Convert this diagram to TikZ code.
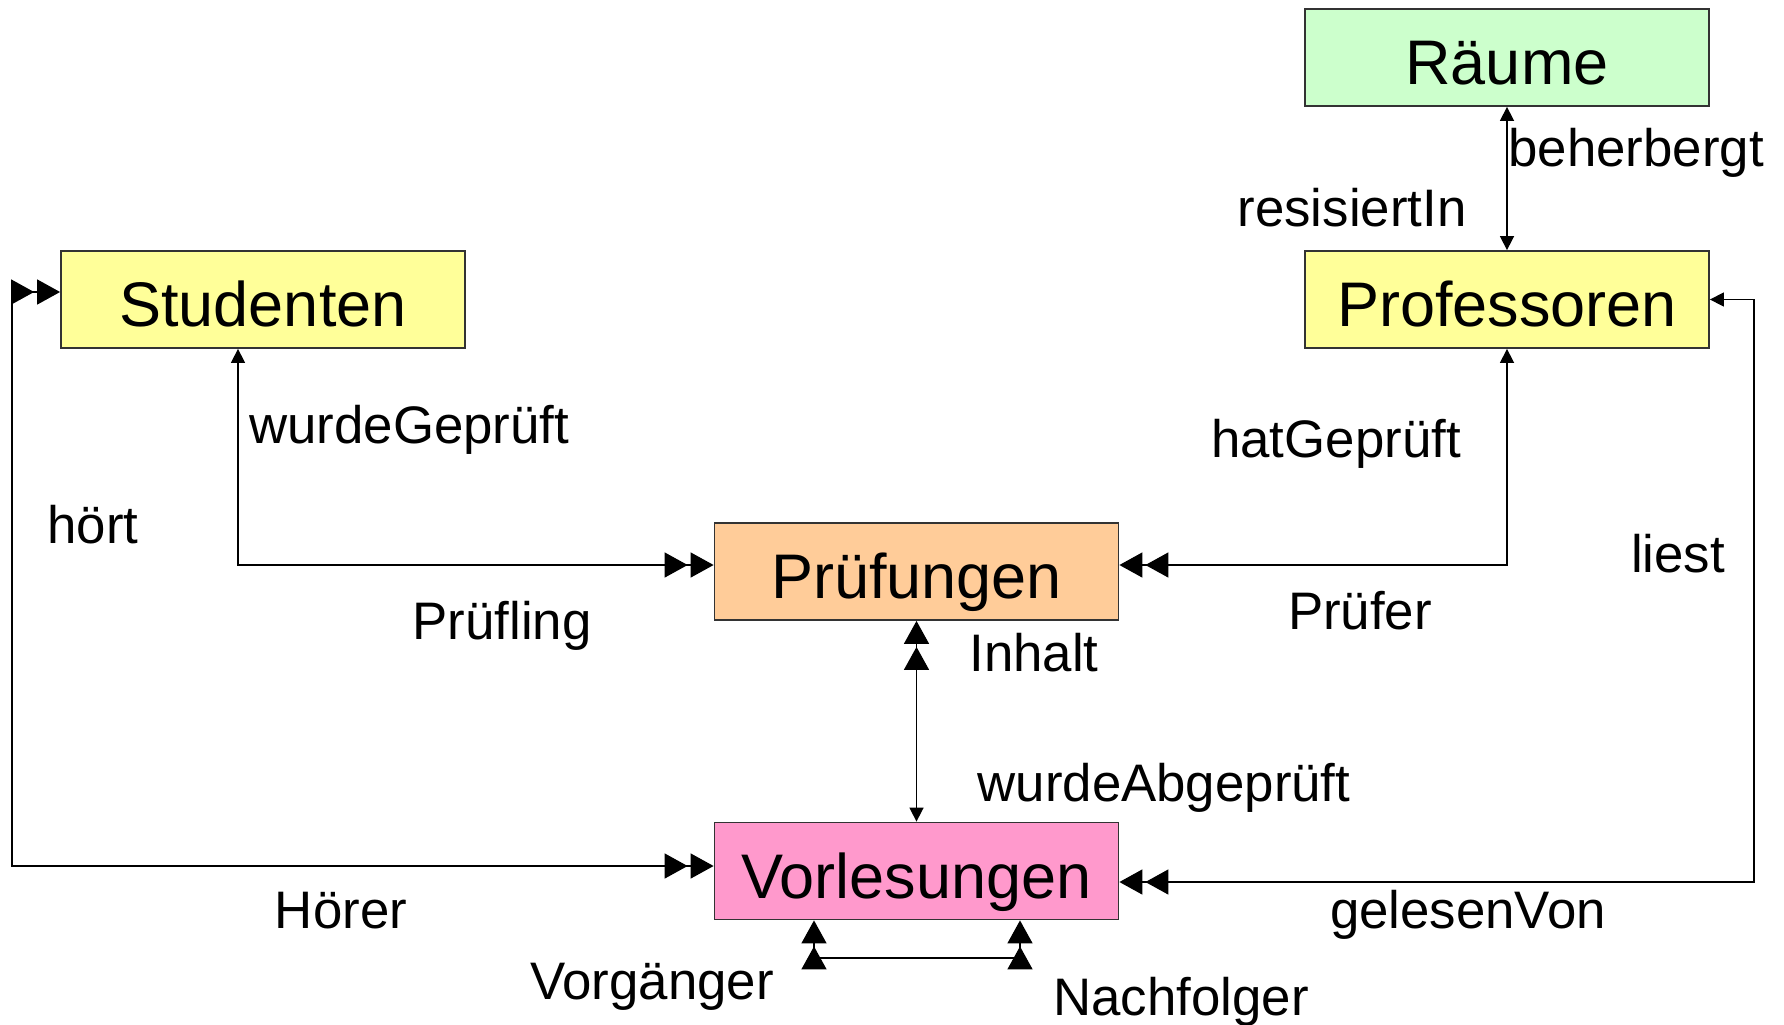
\documentclass[tikz,border=0pt]{standalone}
\usepackage{fontspec}
\setmainfont{Liberation Sans}
\usepackage{tikz}
\usetikzlibrary{arrows.meta}
\definecolor{raumgruen}{HTML}{CCFFCC}
\definecolor{gelb}{HTML}{FFFF99}
\definecolor{orange}{HTML}{FFCC99}
\definecolor{rosa}{HTML}{FF99CC}
\tikzstyle{entity} = [rectangle, minimum width=202pt, minimum height=48.5pt, text height=27pt, text depth=0pt, text centered, draw=black!80, line width=0.9pt, font=\fontsize{31.5}{36}\selectfont]
\tikzstyle{rolle} = [font=\fontsize{26.4}{30}\selectfont, inner sep=0pt]
\tikzstyle{conn} = [draw=black, line width=0.75pt]
\tikzset{one/.tip={Triangle[length=7pt,width=7pt]},
  many/.tip={Triangle[length=11.5pt,width=12.5pt,sep=1.5pt]Triangle[length=11.5pt,width=12.5pt]}}

\begin{document}
\begin{tikzpicture}[x=0.5pt, y=-0.5pt, node distance=121pt]
        \useasboundingbox (0,0) rectangle (1784,1024);
        \node (raeume) [entity, fill=raumgruen] at (1507,57.5) {Räume};
        \node (prof) [entity, fill=gelb, below of=raeume] {Professoren};
        \node (stud) [entity, fill=gelb, left of=prof, xshift=-501pt] {Studenten};
        \node (pruef) [entity, fill=orange, below of=prof, yshift=-15pt, xshift=-295.25pt] {Prüfungen};
        \node (vorl) [entity, fill=rosa, below of=pruef, yshift=-28.75pt] {Vorlesungen};

        \node (lbeher) [rolle, anchor=base west] at (1508,166) {beherbergt};
        \node (lresid) [rolle, anchor=base] at (1352,226) {resisiertIn};
        \node (lwurde) [rolle, anchor=base west] at (249,443) {wurdeGeprüft};
        \node (lhoert) [rolle, anchor=base] at (93,543) {hört};
        \node (lpruefl) [rolle, anchor=base] at (502,639) {Prüfling};
        \node (lhatg) [rolle, anchor=base] at (1336,457) {hatGeprüft};
        \node (lpruefer) [rolle, anchor=base] at (1360,629) {Prüfer};
        \node (lliest) [rolle, anchor=base] at (1678,572) {liest};
        \node (linhalt) [rolle, anchor=base] at (1034,671) {Inhalt};
        \node (labgepr) [rolle, anchor=base] at (1164,801) {wurdeAbgeprüft};
        \node (lhoerer) [rolle, anchor=base] at (341,928) {Hörer};
        \node (lgelesen) [rolle, anchor=base] at (1468,928) {gelesenVon};
        \node (lvorg) [rolle, anchor=base] at (652,999) {Vorgänger};
        \node (lnachf) [rolle, anchor=base] at (1181,1015) {Nachfolger};

        \draw [conn, one-one] (raeume) -- (prof);
        \draw [conn, one-many] ([xshift=-12.5pt]stud.south) |- ([yshift=3.25pt]pruef.west);
        \draw [conn, one-many] (prof.south) |- ([yshift=3.25pt]pruef.east);
        \draw [conn, many-one] (pruef) -- (vorl);
        \draw [conn, many-many] ([yshift=3.75pt]stud.west) -- ++(-24pt,0) |- ([yshift=2.5pt]vorl.west);
        \draw [conn, one-many] (prof.east) -- ++(22pt,0) |- ([yshift=-5.5pt]vorl.east);
        \draw [conn, many-many] ([xshift=-51.25pt]vorl.south) -- ++(0,-18.75pt) -| ([xshift=51.75pt]vorl.south);
\end{tikzpicture}
\end{document}
